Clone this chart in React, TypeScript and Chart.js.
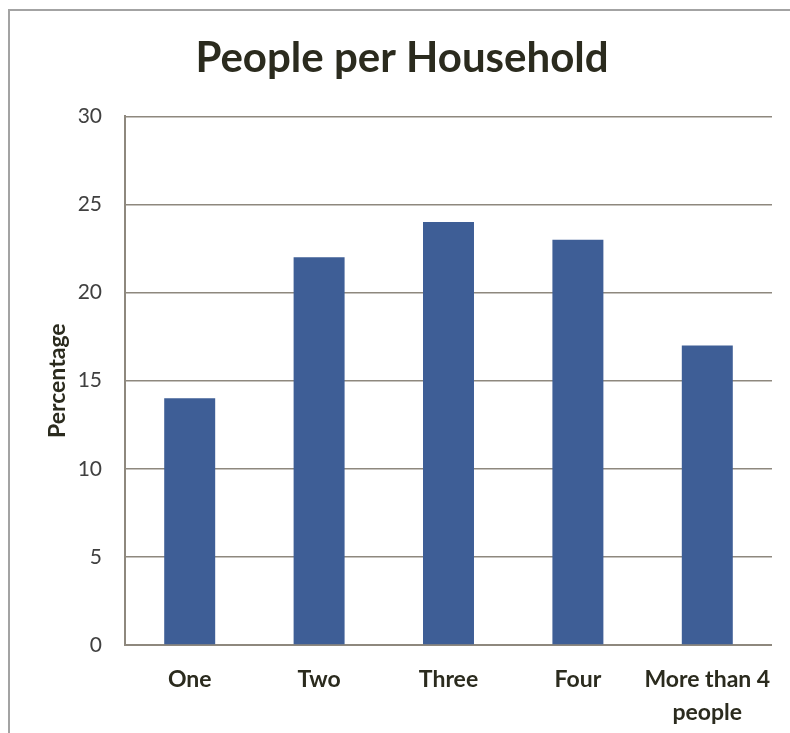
import React, { useEffect, useRef } from "react";
import { Chart, registerables } from "chart.js";

Chart.register(...registerables);

const categories: (string | string[])[] = ["One", "Two", "Three", "Four", ["More than 4", "people"]];
const percentages: number[] = [14, 22, 24, 23, 17];
const yTicks = { min: 0, max: 30, step: 5 };

const FONT = "Lato, 'Open Sans', sans-serif";
const TEXT = "#2b2b1e";
const GRID = "#8e887e";
const BAR = "#3e5e96";

export default function App() {
  const ref = useRef<HTMLCanvasElement | null>(null);

  useEffect(() => {
    if (!ref.current) return;
    const chart = new Chart(ref.current, {
      type: "bar",
      data: {
        labels: categories,
        datasets: [
          {
            data: percentages,
            backgroundColor: BAR,
            borderWidth: 0,
            barPercentage: 0.394,
            categoryPercentage: 1,
          },
        ],
      },
      options: {
        responsive: false,
        animation: false,
        layout: { padding: { left: 32, right: 18, top: 0, bottom: 0 } },
        plugins: {
          legend: { display: false },
          tooltip: { enabled: false },
          title: {
            display: true,
            text: "People per Household",
            color: TEXT,
            font: { family: FONT, size: 42, weight: "bold" },
            padding: { top: 33, bottom: 33 },
          },
        },
        scales: {
          x: {
            grid: { display: false, drawTicks: false },
            border: { display: true, color: GRID, width: 2 },
            ticks: {
              color: TEXT,
              padding: 18,
              maxRotation: 0,
              font: { family: FONT, size: 23, weight: "bold", lineHeight: 1.45 },
            },
            afterFit: (scale: any) => {
              scale.height = 88;
            },
          },
          y: {
            min: yTicks.min,
            max: yTicks.max,
            ticks: {
              stepSize: yTicks.step,
              color: "#404040",
              padding: 23,
              font: { family: FONT, size: 21 },
            },
            grid: { color: GRID, lineWidth: 1.5, drawTicks: false },
            border: { display: true, color: GRID, width: 2 },
            title: {
              display: true,
              text: "Percentage",
              color: TEXT,
              font: { family: FONT, size: 23, weight: "bold" },
              padding: { top: 12, bottom: 0 },
            },
            afterFit: (scale: any) => {
              scale.width = 93;
            },
          },
        },
      },
    });
    return () => chart.destroy();
  }, []);

  return (
    <div style={{ position: "fixed", left: 0, top: 0, width: 790, height: 733, background: "#fff" }}>
      <div
        style={{
          position: "absolute",
          left: 8,
          top: 9,
          right: 0,
          bottom: 0,
          borderTop: "2px solid #a3a3a3",
          borderLeft: "2px solid #a3a3a3",
        }}
      />
      <canvas ref={ref} width={790} height={733} style={{ position: "absolute", left: 0, top: 0 }} />
    </div>
  );
}
